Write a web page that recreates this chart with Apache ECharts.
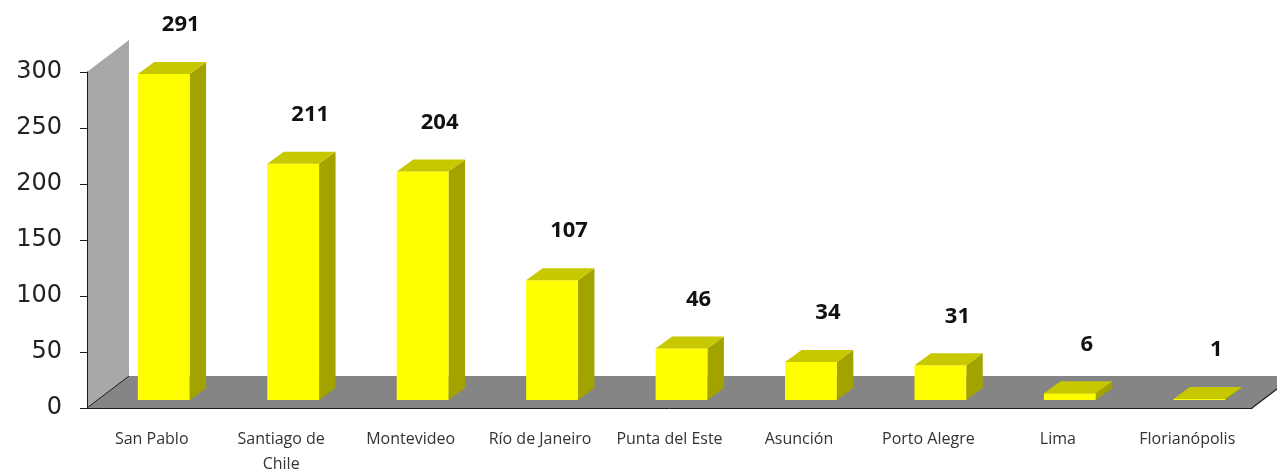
<!DOCTYPE html>
<html><head><meta charset="utf-8">
<script src="https://cdn.jsdelivr.net/npm/echarts/dist/echarts.min.js"></script>
<style>html,body{margin:0;padding:0;background:#fff}#c{width:1277px;height:473px}</style>
</head><body><div id="c"></div>
<script>
// ---- data ----
const categories = ['San Pablo', 'Santiago de\nChile', 'Montevideo', 'Río de Janeiro', 'Punta del Este', 'Asunción', 'Porto Alegre', 'Lima', 'Florianópolis'];
const values = [291, 211, 204, 107, 46, 34, 31, 6, 1];
const yMin = 0, yMax = 300, yInterval = 50;

// ---- style ----
const ROOM_DEPTH = [42, -32];
const BAR_FRONT = [12, -8];
const BAR_DEPTH = [16.5, -12];
const C_FRONT = '#FFFF00', C_TOP = '#C8C800', C_SIDE = '#A3A300';
const C_WALL = '#A8A8A8', C_FLOOR = '#858585';

function renderRoom(params, api) {
  const cw = api.size([1, 0])[0];
  const p0 = api.coord([0, yMin]);
  const pT = api.coord([0, yMax]);
  const pN = api.coord([categories.length - 1, yMin]);
  const L = p0[0] - cw / 2, R = pN[0] + cw / 2, Y0 = p0[1], YT = pT[1];
  const dx = ROOM_DEPTH[0], dy = ROOM_DEPTH[1];
  return {
    type: 'group', children: [
      { type: 'polygon', shape: { points: [[L, Y0], [L, YT], [L + dx, YT + dy], [L + dx, Y0 + dy]] }, style: { fill: C_WALL } },
      { type: 'polygon', shape: { points: [[L, Y0], [R, Y0], [R + dx, Y0 + dy], [L + dx, Y0 + dy]] }, style: { fill: C_FLOOR } },
      { type: 'line', shape: { x1: L, y1: Y0, x2: L + dx, y2: Y0 + dy }, style: { stroke: '#1a1a1a', lineWidth: 1 } },
      { type: 'line', shape: { x1: R, y1: Y0, x2: R + dx, y2: Y0 + dy }, style: { stroke: '#1a1a1a', lineWidth: 1.2 } }
    ]
  };
}

function renderBar(params, api) {
  const i = api.value(0), v = api.value(1);
  const base = api.coord([i, 0]), top = api.coord([i, v]);
  const cw = api.size([1, 0])[0];
  const bw = cw / 2.5;
  const x0 = base[0] + BAR_FRONT[0] - bw / 2, x1 = x0 + bw;
  const yb = base[1] + BAR_FRONT[1], yt = top[1] + BAR_FRONT[1];
  const dx = BAR_DEPTH[0], dy = BAR_DEPTH[1];
  return {
    type: 'group', children: [
      { type: 'polygon', shape: { points: [[x1, yt], [x1 + dx, yt + dy], [x1 + dx, yb + dy], [x1, yb]] }, style: { fill: C_SIDE } },
      { type: 'rect', shape: { x: x0, y: yt, width: bw, height: yb - yt }, style: { fill: C_FRONT } },
      { type: 'polygon', shape: { points: [[x0, yt], [x1, yt], [x1 + dx, yt + dy], [x0 + dx, yt + dy]] }, style: { fill: C_TOP } },
      { type: 'text', x: base[0] + 29, y: top[1] - 57, style: { text: String(v), align: 'center', verticalAlign: 'middle', fontFamily: 'Open Sans', fontWeight: 'bold', fontSize: 22, fill: '#111' } }
    ]
  };
}

const chart = echarts.init(document.getElementById('c'), null, { renderer: 'canvas' });
chart.setOption({
  animation: false,
  backgroundColor: '#fff',
  grid: { left: 87, right: 25, top: 72, bottom: 65, containLabel: false, outerBoundsMode: 'none' },
  xAxis: {
    type: 'category', data: categories, z: 5,
    axisLine: { lineStyle: { color: '#1a1a1a', width: 1 } },
    axisTick: { length: 6, lineStyle: { color: '#1a1a1a' } },
    axisLabel: { interval: 0, margin: 19, fontFamily: 'Open Sans', fontSize: 16, color: '#333', lineHeight: 25 }
  },
  yAxis: {
    type: 'value', min: yMin, max: yMax, interval: yInterval, z: 5,
    axisLine: { show: true, lineStyle: { color: '#1a1a1a', width: 1 } },
    axisTick: { show: true, length: 7, lineStyle: { color: '#1a1a1a' } },
    splitLine: { show: false },
    axisLabel: { margin: 25, fontFamily: 'DejaVu Sans', fontSize: 24, color: '#222' }
  },
  series: [
    { type: 'custom', z: 1, clip: false, renderItem: renderRoom, data: [[0, 0]], encode: { x: 0, y: 1 }, silent: true },
    { type: 'custom', z: 2, clip: false, renderItem: renderBar, data: values.map((v, i) => [i, v]), encode: { x: 0, y: 1 } }
  ]
});
</script></body></html>
